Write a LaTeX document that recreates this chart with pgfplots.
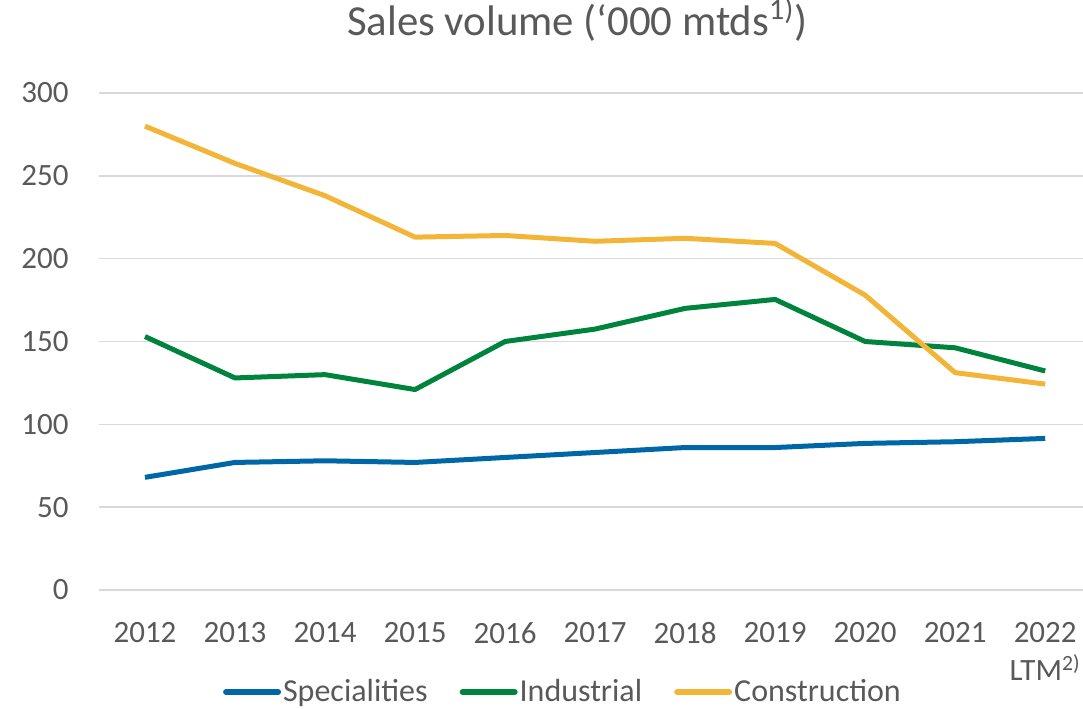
\documentclass[border=0pt]{standalone}
\usepackage{fontspec}
\setmainfont{Carlito}
\usepackage{pgfplots}
\pgfplotsset{compat=1.18}
\definecolor{txt}{HTML}{595959}
\definecolor{gridc}{HTML}{D9D9D9}
\definecolor{cblue}{RGB}{0,103,166}
\definecolor{cgreen}{RGB}{0,132,61}
\definecolor{cyellow}{RGB}{242,181,56}
\begin{document}
\begin{tikzpicture}
\useasboundingbox (-49.5pt,-59pt) rectangle (492pt,295pt);
\begin{axis}[
  at={(0,0)}, anchor=south west,
  scale only axis, width=492pt, height=248.5pt,
  xmin=-0.511, xmax=10.42, ymin=0, ymax=300,
  axis line style={draw=none},
  major tick length=0pt,
  ymajorgrids, grid style={gridc, line width=0.75pt},
  xtick={0,1,...,10},
  xticklabels={2012,2013,2014,2015,2016,2017,2018,2019,2020,2021,{2022\\LTM\textsuperscript{2)}}},
  ytick={0,50,...,300},
  /pgf/number format/assume math mode=true,
  xticklabel style={anchor=north, inner sep=0pt, yshift=-16pt, align=center, font=\fontsize{15.5}{19}\selectfont, text=txt},
  yticklabel style={anchor=east, inner sep=0pt, xshift=-15pt, font=\fontsize{15.5}{19}\selectfont, text=txt},
  title={Sales volume (‘000 mtds\textsuperscript{1)})},
  title style={at={(0.486,1)}, anchor=base, yshift=23pt, font=\fontsize{21.4}{25}\selectfont, text=txt, inner sep=0pt},
  legend style={at={(0.4715,0)}, anchor=center, yshift=-51pt, draw=none, fill=none,
    font=\fontsize{16}{19}\selectfont, text=txt,
    nodes={inner sep=1pt},
    /tikz/every even column/.append style={column sep=15pt}},
  legend columns=3,
  legend cell align=left,
  legend image code/.code={\draw[#1, line width=3pt, line cap=round] (0pt,0pt) -- (26pt,0pt);},
  every axis plot/.append style={line width=2.5pt, line join=round, mark=none},
]
\addplot[cblue] coordinates {(0,68) (1,77) (2,78) (3,77) (4,80) (5,83) (6,86) (7,86) (8,88.5) (9,89.5) (10,91.5)};
\addlegendentry{Specialities}
\addplot[cgreen] coordinates {(0,153) (1,128) (2,130) (3,121) (4,150) (5,157.5) (6,170) (7,175.4) (8,150) (9,146.2) (10,132.2)};
\addlegendentry{Industrial}
\addplot[cyellow] coordinates {(0,280) (1,257.5) (2,238) (3,213) (4,214) (5,210.5) (6,212.3) (7,209.2) (8,178) (9,131.2) (10,124.3)};
\addlegendentry{Construction}
\end{axis}
\end{tikzpicture}
\end{document}
